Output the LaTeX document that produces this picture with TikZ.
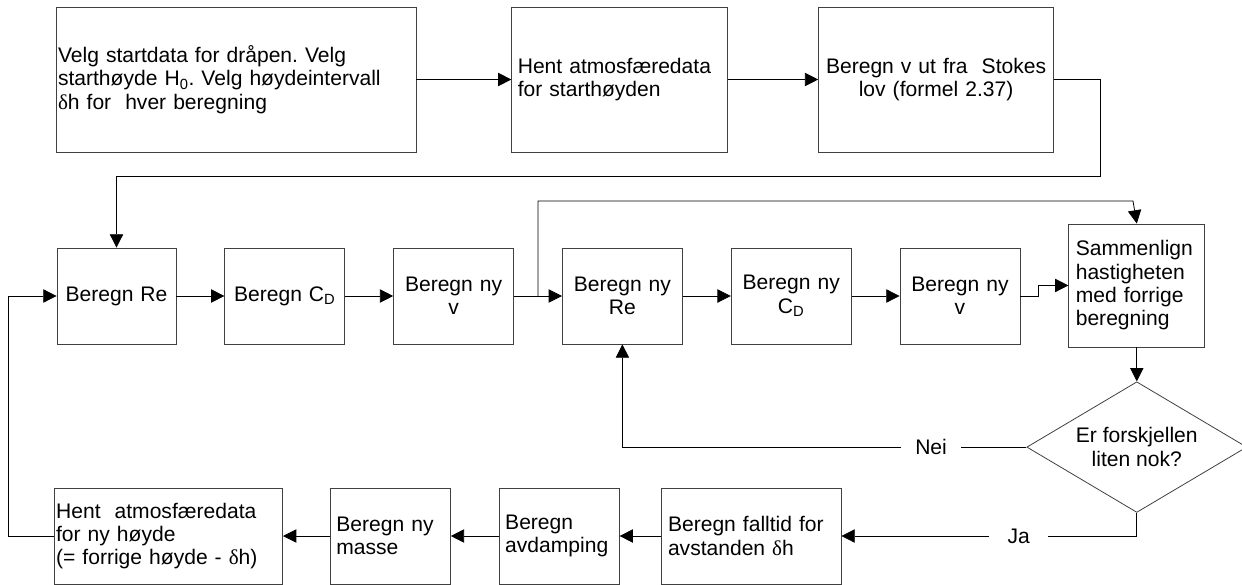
\documentclass[tikz,border=0pt]{standalone}
\usepackage{fontspec}
\setmainfont{Liberation Sans}
\newfontfamily\greekserif{Liberation Serif}
\usepackage{tikz}
\usetikzlibrary{arrows.meta,positioning,calc,shapes.geometric}
\frenchspacing
\newcommand{\boxfont}{\fontsize{15.8pt}{17.5pt}\selectfont}
\newcommand{\dlt}{{\greekserif δ}}
\tikzset{
  flowbox/.style={draw=black!75,line width=0.6pt,inner xsep=4.5pt,inner ysep=0pt,
    minimum height=72pt,text width=81pt,align=center,font=\boxfont},
  leftbox/.style={flowbox,align=left},
  decisionbox/.style={diamond,draw=black!75,line width=0.6pt,aspect=2,inner sep=0pt,
    minimum width=165pt,minimum height=98pt,align=center,font=\boxfont},
  flowarrow/.style={-{Triangle[length=10pt,width=10pt]},line width=0.6pt},
  branchlabel/.style={fill=white,inner xsep=10.5pt,inner ysep=2pt,font=\boxfont}
}
\begin{document}
\begin{tikzpicture}[x=0.75pt,y=-0.75pt]
  \useasboundingbox (0,0) rectangle (1242,585);
  % start
  \node[leftbox,text width=267pt,inner xsep=1.5pt,minimum height=108.75pt] (start) at (236,79.5)
    {Velg startdata for dråpen. Velg\\starthøyde H\textsubscript{0}. Velg høydeintervall\\\dlt h for\ \ hver beregning};
  \node[leftbox,text width=153pt,minimum height=108.75pt,right=71.25pt of start] (hent) {Hent atmosfæredata\\for starthøyden};
  \node[flowbox,text width=167pt,inner xsep=4.6pt,minimum height=108.75pt,right=67.5pt of hent] (stokes) {Beregn v ut fra\ \ Stokes\\lov (formel 2.37)};
  % iterasjon
  \node[flowbox,text width=80.25pt] (re) at (116.5,296) {Beregn Re};
  \node[flowbox,right=36pt of re] (cd) {Beregn C\textsubscript{D}};
  \node[flowbox,right=36pt of cd] (nyv) {Beregn ny\\v};
  \node[flowbox,right=36pt of nyv] (nyre) {Beregn ny\\Re};
  \node[flowbox,right=36pt of nyre] (nycd) {Beregn ny\\C\textsubscript{D}};
  \node[flowbox,right=36pt of nycd] (nyv2) {Beregn ny\\v};
  \node[leftbox,text width=91.5pt,inner xsep=5.25pt,minimum height=92.25pt,right=36pt of nyv2,yshift=7.9pt] (comp) {Sammenlign\\hastigheten\\med forrige\\beregning};
  \node[decisionbox,below=25.5pt of comp] (check) {Er forskjellen\\liten nok?};
  % neste steg
  \node[leftbox,text width=124.5pt,inner xsep=5.25pt] (falltid) at (751,536) {Beregn falltid for\\avstanden \dlt h};
  \node[leftbox,left=30.75pt of falltid] (avdamp) {Beregn\\avdamping};
  \node[leftbox,left=36pt of avdamp] (masse) {Beregn ny\\masse};
  \node[leftbox,text width=168.75pt,inner xsep=1.1pt,left=35.25pt of masse] (hentny) {Hent\ \ atmosfæredata\\for ny høyde\\(= forrige høyde - \dlt h)};
  \coordinate (stokesturn) at (1100,176);
  \coordinate (split) at ($(nyv.east)!0.5!(nyre.west)$);
  \coordinate (bypass) at (1133,201);
  \coordinate (loopback) at (8,536);
  \draw[flowarrow] (start) -- (hent);
  \draw[flowarrow] (hent) -- (stokes);
  \draw[flowarrow] (stokes.east) -| (stokesturn) -| (re.north);
  \draw[flowarrow] (re) -- (cd);
  \draw[flowarrow] (cd) -- (nyv);
  \draw[flowarrow] (nyv) -- (nyre);
  \draw[flowarrow] (nyre) -- (nycd);
  \draw[flowarrow] (nycd) -- (nyv2);
  \draw[flowarrow] (split) |- (bypass) -- (comp.north);
  \draw[flowarrow] (nyv2.east) -- ++(18,0) |- (comp.west);
  \draw[flowarrow] (comp) -- (check);
  \draw[flowarrow] (check.west) -| node[branchlabel,pos=0.118]{Nei} (nyre.south);
  \draw[flowarrow] (check.south) |- node[branchlabel,pos=0.7,inner xsep=14pt]{Ja} (falltid.east);
  \draw[flowarrow] (falltid) -- (avdamp);
  \draw[flowarrow] (avdamp) -- (masse);
  \draw[flowarrow] (masse) -- (hentny);
  \draw[flowarrow] (hentny.west) -- (loopback) |- (re.west);
\end{tikzpicture}
\end{document}
